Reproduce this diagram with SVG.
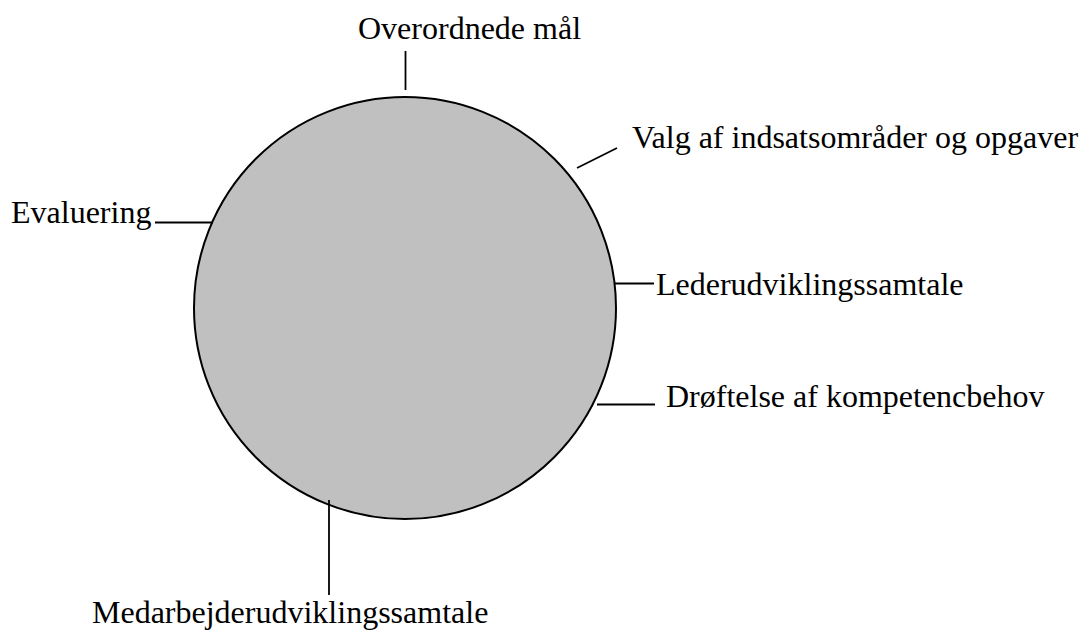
<svg xmlns="http://www.w3.org/2000/svg" width="1086" height="632" viewBox="0 0 1086 632">
<style>
.lbl{font-family:"Liberation Serif","Times New Roman",serif;font-size:32px;fill:#000}
.ln{stroke:#000;stroke-width:1.8;fill:none}
</style>
<rect width="1086" height="632" fill="#fff"/>
<g id="circle">
<circle cx="405" cy="308" r="211" fill="#c0c0c0" stroke="#000" stroke-width="2"/>
</g>
<g id="connectors">
<line class="ln" x1="405.5" y1="51" x2="405.5" y2="90"/>
<line class="ln" x1="577" y1="168" x2="617" y2="148"/>
<line class="ln" x1="615" y1="283.5" x2="654" y2="283.5"/>
<line class="ln" x1="597" y1="404.5" x2="655" y2="404.5"/>
<line class="ln" x1="155" y1="222.5" x2="213" y2="222.5"/>
<line class="ln" x1="329" y1="500" x2="329" y2="595"/>
</g>
<g id="n-overordnede"><text class="lbl" x="358" y="39">Overordnede mål</text></g>
<g id="n-valg"><text class="lbl" x="632" y="148">Valg af indsatsområder og opgaver</text></g>
<g id="n-leder"><text class="lbl" x="656" y="295">Lederudviklingssamtale</text></g>
<g id="n-drof"><text class="lbl" x="666" y="407">Drøftelse af kompetencbehov</text></g>
<g id="n-eval"><text class="lbl" x="11" y="223">Evaluering</text></g>
<g id="n-medarb"><text class="lbl" x="92" y="623">Medarbejderudviklingssamtale</text></g>
</svg>
